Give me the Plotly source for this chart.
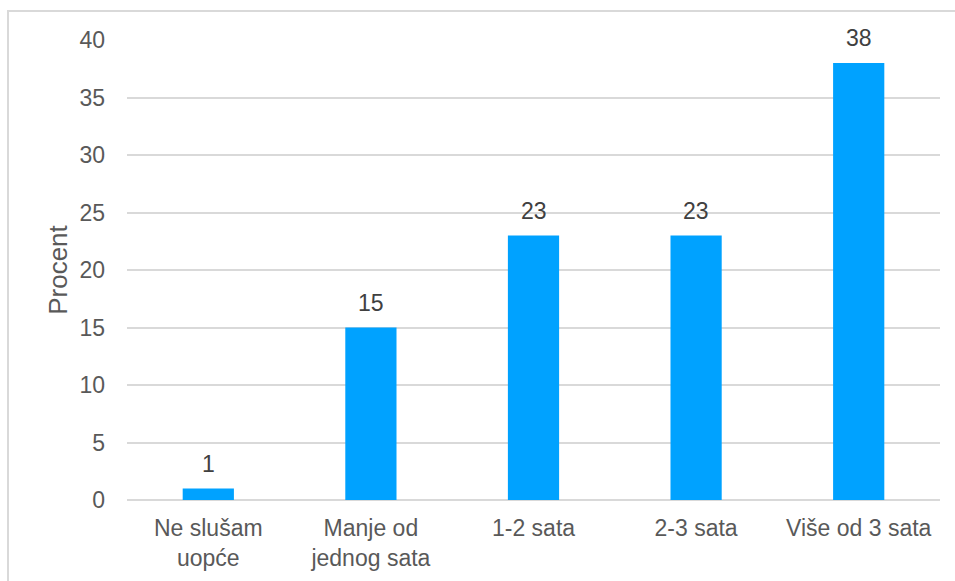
import plotly.graph_objects as go

categories = ["Ne slušam<br>uopće", "Manje od<br>jednog sata", "1-2 sata", "2-3 sata", "Više od 3 sata"]
values = [1, 15, 23, 23, 38]
y_ticks = [0, 5, 10, 15, 20, 25, 30, 35, 40]

FONT = "Liberation Sans, Arial, sans-serif"

fig = go.Figure(go.Bar(
    x=categories, y=values,
    marker=dict(color="#00A2FF", line=dict(width=0)),
    cliponaxis=False,
))

for c, v in zip(categories, values):
    fig.add_annotation(x=c, y=v, text=str(v), showarrow=False, yanchor="bottom",
                       yshift=10, font=dict(family=FONT, size=23, color="#404040"))

fig.update_layout(
    width=955, height=581,
    margin=dict(l=127, r=15, t=40, b=81),
    paper_bgcolor="white", plot_bgcolor="white",
    font=dict(family=FONT, size=23, color="#595959"),
    bargap=0.685,
    showlegend=False,
    shapes=[dict(type="rect", xref="paper", yref="paper",
                 x0=(8 - 127) / 813, x1=1.05, y0=-0.3, y1=1 + (40 - 11) / 460,
                 line=dict(color="#D9D9D9", width=2), layer="below")],
)
fig.update_xaxes(showline=False, ticks="", tickfont=dict(size=23, color="#595959"),
                 ticklabelstandoff=12, automargin=False)
fig.update_yaxes(
    range=[0, 40], tickvals=y_ticks, showgrid=True, gridcolor="#D9D9D9", gridwidth=1.5,
    zeroline=True, zerolinecolor="#D9D9D9", zerolinewidth=1.5, ticks="",
    ticklabelstandoff=21, tickfont=dict(size=23, color="#595959"), automargin=False,
    title=dict(text="Procent", font=dict(size=26, color="#595959"), standoff=4),
)

fig.write_html("out.html")
